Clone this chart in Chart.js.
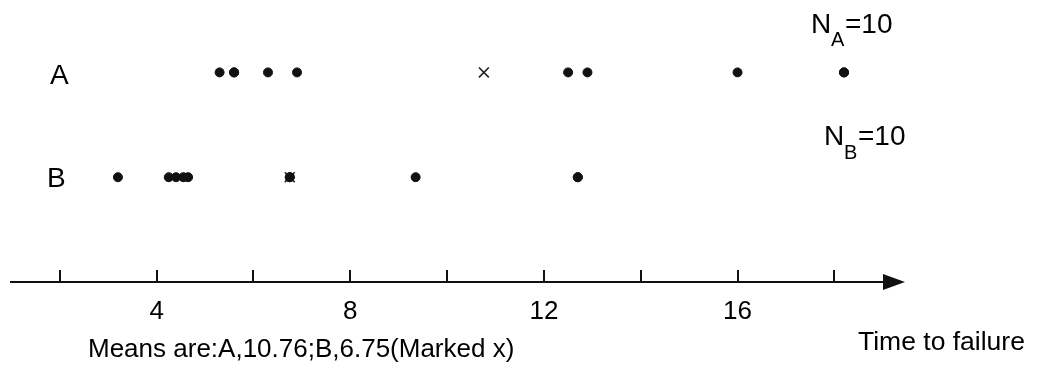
<!DOCTYPE html>
<html>
<head>
<meta charset="utf-8">
<script src="https://cdn.jsdelivr.net/npm/chart.js@4/dist/chart.umd.min.js"></script>
<style>
  html, body { margin: 0; padding: 0; background: #fff; }
  #wrap { width: 1040px; height: 368px; }
</style>
</head>
<body>
<div id="wrap"><canvas id="failChart"></canvas></div>
<script>
// failure times
const timesA = [5.3, 5.6, 5.6, 6.3, 6.9, 12.5, 12.9, 16.0, 18.2, 18.2];
const timesB = [3.2, 4.25, 4.4, 4.55, 4.65, 6.75, 6.75, 9.35, 12.7, 12.7];
const meanA = 10.76;
const meanB = 6.75;
const rowA = 2;
const rowB = 1;
const tickValues = [2, 4, 6, 8, 10, 12, 14, 16, 18];
const labelEvery = 4;

const FONT = '"Liberation Sans", Arial, sans-serif';

const toPoints = (arr, row) => arr.map(t => ({ x: t, y: row }));

// axis line with arrow, tick marks and the free texts
const decorations = {
    id: 'decorations',
    afterDraw(chart) {
        const ctx = chart.ctx;
        const xs = chart.scales.x;
        const area = chart.chartArea;
        const y0 = area.bottom;

        ctx.save();
        ctx.strokeStyle = '#111';
        ctx.fillStyle = '#111';
        ctx.lineWidth = 2;
        ctx.beginPath();
        ctx.moveTo(area.left, y0);
        ctx.lineTo(area.right - 4, y0);
        ctx.stroke();

        // arrow head
        ctx.beginPath();
        ctx.moveTo(area.right - 22, y0 - 8);
        ctx.lineTo(area.right, y0);
        ctx.lineTo(area.right - 22, y0 + 8);
        ctx.closePath();
        ctx.fill();

        tickValues.forEach(v => {
            const px = Math.round(xs.getPixelForValue(v));
            ctx.beginPath();
            ctx.moveTo(px, y0 - 12);
            ctx.lineTo(px, y0);
            ctx.stroke();
        });

        ctx.fillStyle = '#000';
        ctx.textBaseline = 'alphabetic';
        ctx.textAlign = 'left';
        ctx.font = '28px ' + FONT;
        ctx.fillText('A', 50, 84);
        ctx.fillText('B', 47, 187);

        // N_A=10
        ctx.fillText('N', 811, 33);
        ctx.font = '20px ' + FONT;
        ctx.fillText('A', 831, 46);
        ctx.font = '28px ' + FONT;
        ctx.fillText('=10', 845, 33);

        // N_B=10
        ctx.fillText('N', 824, 145);
        ctx.font = '20px ' + FONT;
        ctx.fillText('B', 844, 159);
        ctx.font = '28px ' + FONT;
        ctx.fillText('=10', 858, 145);

        ctx.font = '26px ' + FONT;
        ctx.fillText('Means are:A,10.76;B,6.75(Marked x)', 88, 357);
        ctx.font = '26.5px ' + FONT;
        ctx.fillText('Time to failure', 858, 350);
        ctx.restore();
    }
};

new Chart(document.getElementById('failChart'), {
    type: 'scatter',
    data: {
        datasets: [
            {
                label: 'A',
                data: toPoints(timesA, rowA),
                backgroundColor: '#111',
                borderColor: '#111',
                pointRadius: 4.5,
                pointHoverRadius: 4.5
            },
            {
                label: 'B',
                data: toPoints(timesB, rowB),
                backgroundColor: '#111',
                borderColor: '#111',
                pointRadius: 4.5,
                pointHoverRadius: 4.5
            },
            {
                label: 'Means',
                data: [{ x: meanA, y: rowA }, { x: meanB, y: rowB }],
                pointStyle: 'crossRot',
                borderColor: '#222',
                borderWidth: 1.6,
                pointRadius: 7,
                pointHoverRadius: 7
            }
        ]
    },
    options: {
        responsive: true,
        maintainAspectRatio: false,
        animation: false,
        events: [],
        layout: { padding: { left: 10, right: 135, top: 20, bottom: 0 } },
        plugins: {
            legend: { display: false },
            tooltip: { enabled: false }
        },
        scales: {
            x: {
                type: 'linear',
                min: 0.97,
                max: 19.46,
                grid: { display: false, drawTicks: false },
                border: { display: false },
                afterBuildTicks: s => { s.ticks = tickValues.map(v => ({ value: v })); },
                afterFit: s => { s.height = 86; },
                ticks: {
                    padding: 14,
                    color: '#000',
                    font: { family: FONT, size: 26 },
                    maxRotation: 0,
                    autoSkip: false,
                    callback: v => (v % labelEvery === 0 ? v : '')
                }
            },
            y: {
                display: false,
                min: 0,
                max: 2.5
            }
        }
    },
    plugins: [decorations]
});
</script>
</body>
</html>
